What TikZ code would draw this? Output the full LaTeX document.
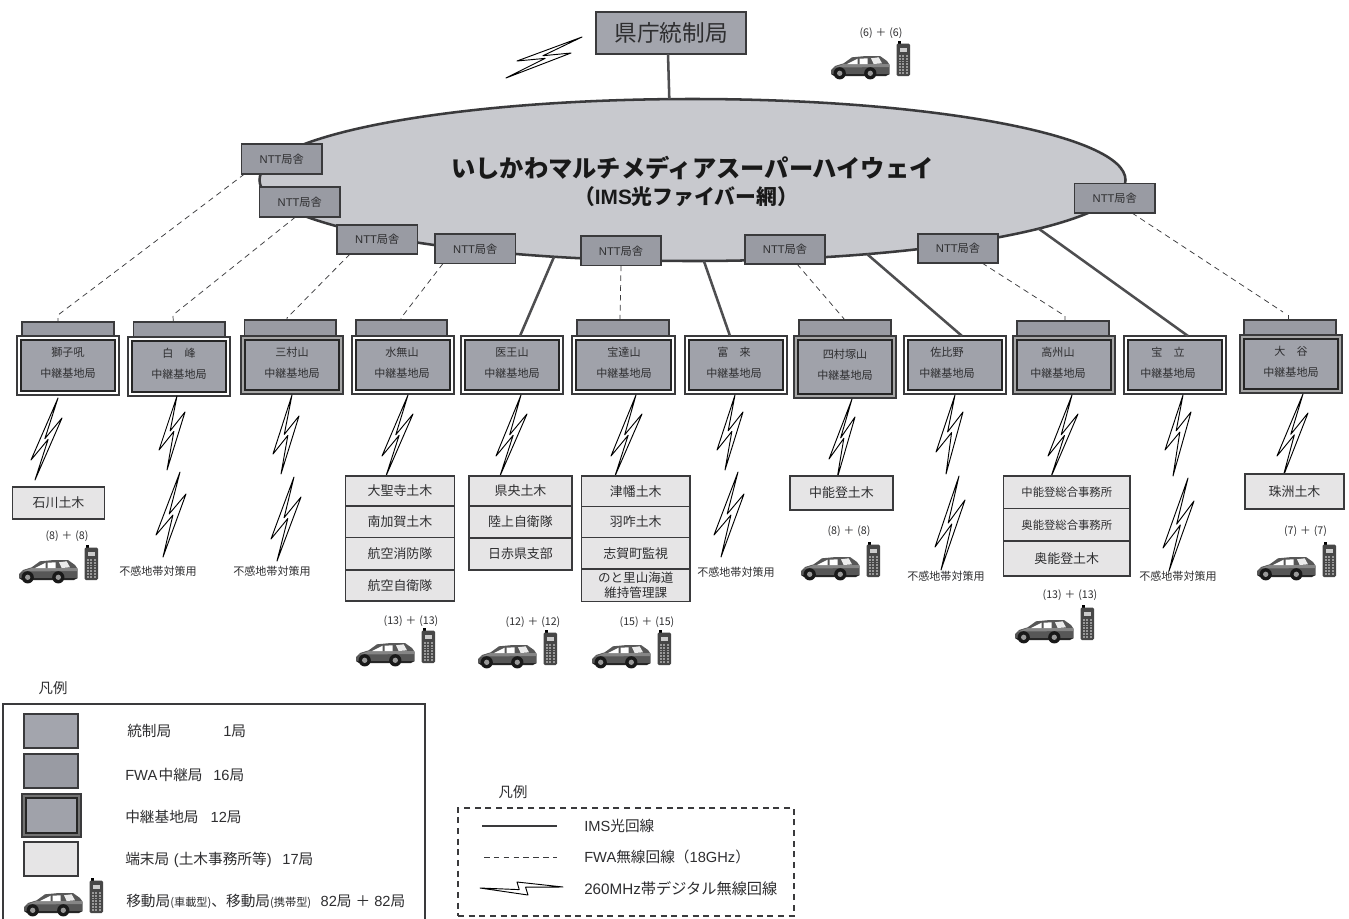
\documentclass[tikz,border=0pt]{standalone}
\usepackage{fontspec}
\setmainfont{Noto Sans CJK JP}
\newfontfamily\lat{Liberation Sans}
\usetikzlibrary{calc,shapes.geometric}
\definecolor{ink}{HTML}{3A3A3C}
\definecolor{txt}{HTML}{2E2E30}
\definecolor{stfill}{HTML}{A0A2AA}
\definecolor{nttfill}{HTML}{999BA3}
\definecolor{ctlfill}{HTML}{A3A5AD}
\definecolor{ovalfill}{HTML}{C8C9CE}
\definecolor{termfill}{HTML}{E6E5E6}
\newcommand{\ntt}{{\lat NTT}局舎\hspace{5pt}}
\newcommand{\cnt}[1]{(#1)\hspace{2.2pt}＋\hspace{2.2pt}(#1)}
\tikzset{
  x=0.75pt,y=-0.75pt,
  boxbase/.style={draw=ink,line width=0.9pt,inner sep=0pt,outer sep=0pt,text=txt},
  nttbox/.style={boxbase,fill=nttfill,font=\fontsize{8.4}{10}\selectfont},
  topbox/.style={boxbase,fill=nttfill},
  ctlbox/.style={boxbase,fill=ctlfill,font=\fontsize{17}{20}\selectfont},
  termbox/.style={boxbase,fill=termfill,font=\fontsize{9.7}{11.2}\selectfont},
  stouter/.style={boxbase,line width=0.9pt,fill=#1},
  stouter/.default=white,
  stinner/.style={draw=black!85,line width=1.6pt,fill=stfill},
  stlabel/.style={inner sep=0pt,text=txt,align=center,font=\fontsize{8.3}{15.75}\selectfont},
  smalltext/.style={inner sep=0pt,text=txt,font=\fontsize{8.3}{10}\selectfont},
  counttext/.style={inner sep=0pt,text=txt,font=\fontsize{8}{10}\selectfont},
  legtitle/.style={inner sep=0pt,text=txt,font=\fontsize{10.8}{13}\selectfont},
  legtext/.style={inner sep=0pt,anchor=west,text=txt,font=\fontsize{11}{13}\selectfont},
  fibre/.style={draw=ink!90,line width=1.9pt},
  fwa/.style={draw=ink,line width=0.55pt,dash pattern=on 4.2pt off 3.2pt},
  boltline/.style={draw=black,line width=0.7pt,fill=white,line join=round},
  pics/carphone/.style={code={
    \fill[black!66] (0,14) -- (4,10) -- (12.7,7.3) -- (21,1.3) -- (35,0) -- (49,0) -- (56,5) -- (58.7,9) -- (58.7,18) -- (0,18) -- cycle;
    \fill[black!48] (12.7,8) -- (58,8) -- (58,11) -- (3,11.5) -- cycle;
    \fill[white] (16,8) -- (26.7,2.7) -- (26.7,8) -- cycle;
    \fill[white] (28.7,8) -- (28.7,2.7) -- (36.7,2.3) -- (36.7,8) -- cycle;
    \fill[black!8] (40,2.3) -- (47.7,1.3) -- (51,7.3) -- (42.7,8) -- cycle;
    \fill[black!85] (0,18) -- (58.7,18) -- (55,20) -- (3,20) -- cycle;
    \fill[black!90] (8.7,17.3) circle[radius=4.6pt];
    \fill[black!90] (39.3,17.3) circle[radius=4.6pt];
    \fill[black!40] (8.7,17.3) circle[radius=2pt];
    \fill[black!40] (39.3,17.3) circle[radius=2pt];
    \fill[black] (66.5,-15) rectangle (69.5,-12);
    \fill[black!72,rounded corners=1pt] (65.5,-12.5) rectangle (79,20);
    \fill[black!20] (68.5,-8) rectangle (76,-4);
    \foreach \i in {0,...,6}{\foreach \j in {0,1,2}{
      \fill[black!40] ({67.5+\j*3.5},{-1+\i*2.8}) rectangle ++(2.4,1.7);}}
  }}
}
% lightning: tip, left corner, right corner, lower tip
\newcommand{\boltshape}[4]{\draw[boltline] (#1) -- (#2) -- ($($(#2)!.6!(#3)$)!.1!(#4)$) -- (#4) -- (#3) -- ($($(#2)!.4!(#3)$)!.1!(#1)$) -- cycle;}
% rectangle node from its corners: style,name,x1,y1,x2,y2,text
\newcommand{\bx}[7]{\node[#1,minimum width={(#5-#3)*0.75pt},minimum height={(#6-#4)*0.75pt}] (#2) at ({(#3+#5)/2},{(#4+#6)/2}) {#7};}
% station: gap colour,name,x1,y1,x2,y2,label x,label y,label
\newcommand{\stn}[9]{\bx{stouter=#1}{#2}{#3}{#4}{#5}{#6}{}
  \draw[stinner] ($(#2.north west)+(4,4)$) rectangle ($(#2.south east)+(-4,-4)$);
  \node[stlabel] at (#7,#8) {#9\\中継基地局};}
\begin{document}
\begin{tikzpicture}
\useasboundingbox (0,0) rectangle (1349,918);
\fill[white] (0,0) rectangle (1349,918);
\clip (0,0) rectangle (1349,918);

% network oval
\node[ellipse,draw=ink,line width=1.9pt,fill=ovalfill,minimum width={866*0.75pt},minimum height={162*0.75pt},inner sep=0pt,outer sep=0pt] (ims) at (692.5,180) {};
\node[inner sep=0pt,text=black!90,font=\fontsize{18.2}{21}\bfseries\selectfont] (imsa) at (692.5,168) {いしかわマルチメディアスーパーハイウェイ};
\node[inner sep=0pt,text=black!90,font=\fontsize{15.6}{17}\bfseries\selectfont] (imsb) at (686,197) {（{\lat IMS}光ファイバー網）};

% control station
\bx{ctlbox}{ken}{596}{12}{746}{54}{県庁統制局}
\draw[fibre] ($(ken.south)+(-3,0)$) -- (ims.106.85);
\boltshape{582,37}{517,61}{571,53}{506,78}

% top boxes of the FWA stations
\bx{topbox}{t1}{22}{322}{114}{338}{}
\bx{topbox}{t2}{133.5}{322}{225}{339}{}
\bx{topbox}{t3}{244.5}{320}{336}{338}{}
\bx{topbox}{t4}{356}{320}{447}{338}{}
\bx{topbox}{t6}{577}{320}{669}{338}{}
\bx{topbox}{t8}{799}{320}{891}{338}{}
\bx{topbox}{t10}{1017}{321}{1109}{338}{}
\bx{topbox}{t12}{1244}{320}{1336}{337}{}

% stations
\stn{white}{s1}{17}{336}{119}{395}{68}{363}{獅子吼}
\stn{white}{s2}{128}{337}{230}{396}{179}{364}{白　峰}
\stn{black!35}{s3}{241}{336}{343}{394}{292}{363}{三村山}
\stn{white}{s4}{352}{336}{454}{394}{402}{363}{水無山}
\stn{white}{s5}{461}{336}{563}{394}{512}{363}{医王山}
\stn{white}{s6}{572}{336}{675}{394}{624}{363}{宝達山}
\stn{white}{s7}{685}{336}{787}{394}{734}{363}{富　来}
\stn{black!35}{s8}{794}{336}{896}{398}{845}{365}{四村塚山}
\stn{white}{s9}{904}{336}{1006}{394}{947}{363}{佐比野}
\stn{black!35}{s10}{1013}{336}{1115}{394}{1058}{363}{高州山}
\stn{white}{s11}{1124}{336}{1226}{394}{1168}{363}{宝　立}
\stn{black!35}{s12}{1240}{335}{1342}{393}{1291}{362}{大　谷}

% fibre links
\draw[fibre] (ims.-151.8) -- ($(s5.north)+(8,0)$);
\draw[fibre] (ims.-82.5) -- ($(s7.north)+(-6,0)$);
\draw[fibre] (ims.-23.2) -- ($(s9.north)+(7,0)$);
\draw[fibre] (ims.-8.1) -- ($(s11.north)+(13,0)$);

% NTT boxes
\bx{nttbox}{n1}{241.5}{144}{322}{174}{\ntt}
\bx{nttbox}{n2}{259.5}{187}{340}{217}{\ntt}
\bx{nttbox}{n3}{337}{225}{417.5}{254}{\ntt}
\bx{nttbox}{n4}{435}{234}{515.5}{263.5}{\ntt}
\bx{nttbox}{n5}{581}{236}{661}{265.5}{\ntt}
\bx{nttbox}{n6}{745}{235}{825}{264}{\ntt}
\bx{nttbox}{n7}{918}{234}{998}{263}{\ntt}
\bx{nttbox}{n8}{1074.5}{183.5}{1155}{213}{\ntt}

% FWA links
\draw[fwa] ($(n1.south west)+(3,0)$) -- (58,315) -- ($(t1.north)+(-10,0)$);
\draw[fwa] ($(n2.south west)+(36,0)$) -- (173,315) -- ($(t2.north)+(-6,0)$);
\draw[fwa] ($(n3.south west)+(13,0)$) -- (287,318) -- ($(t3.north)+(-3,0)$);
\draw[fwa] ($(n4.south west)+(8,0)$) -- (401,318) -- ($(t4.north)+(-0.5,0)$);
\draw[fwa] (n5.south) -- ($(t6.north)+(-3,0)$);
\draw[fwa] ($(n6.south east)+(-28,0)$) -- (t8.north);
\draw[fwa] ($(n7.south west)+(64,0)$) -- (1065,316) -- ($(t10.north)+(2,0)$);
\draw[fwa] ($(n8.south west)+(57.5,0)$) -- (1283,312);
\draw[ink,line width=0.55pt] ($(t12.north)+(-2,-5)$) -- ($(t12.north)+(-2,0)$);

% lightning
\boltshape{58,398}{31,460}{62,418}{35,480}
\boltshape{177,396}{159,450}{185,412}{167,470}
\boltshape{180,472}{156,535}{186,494}{163,557}
\boltshape{292,395}{273,454}{299,416}{281,474}
\boltshape{294,477}{271,539}{301,497}{277,561}
\boltshape{408,395}{382,456}{413,414}{386,476}
\boltshape{521,395}{496,456}{527,414}{500,476}
\boltshape{636,395}{611,456}{642,414}{615,476}
\boltshape{735,395}{717,450}{743,412}{725,470}
\boltshape{738,472}{714,535}{744,494}{721,557}
\boltshape{852,399}{829,459}{855,417}{837,479}
\boltshape{955,395}{936,452}{963,412}{946,474}
\boltshape{959,476}{935,547}{965,500}{941,570}
\boltshape{1072,395}{1048,456}{1078,414}{1051,477}
\boltshape{1183,395}{1165,450}{1191,412}{1173,476}
\boltshape{1188,478}{1163,548}{1194,501}{1169,571}
\boltshape{1303,394}{1277,456}{1308,413}{1283,477}

% terminal stations
\bx{termbox}{a1}{12.5}{487}{104.5}{519}{石川土木\hspace{10pt}}
\bx{termbox}{b1}{345.5}{476}{454.5}{506}{大聖寺土木}
\bx{termbox}{b2}{345.5}{506}{454.5}{537.5}{南加賀土木}
\bx{termbox}{b3}{345.5}{537.5}{454.5}{570}{航空消防隊}
\bx{termbox}{b4}{345.5}{570}{454.5}{601}{航空自衛隊}
\bx{termbox}{c1}{469}{476}{572}{506}{県央土木}
\bx{termbox}{c2}{469}{506}{572}{538}{陸上自衛隊}
\bx{termbox}{c3}{469}{538}{572}{570}{日赤県支部}
\bx{termbox}{d1}{581.5}{476}{690}{506.5}{津幡土木}
\bx{termbox}{d2}{581.5}{506.5}{690}{537.5}{羽咋土木}
\bx{termbox}{d3}{581.5}{537.5}{690}{569}{志賀町監視}
\bx{termbox}{d4}{581.5}{569}{690}{601.5}{\parbox{75pt}{\centering\fontsize{9.4}{11}\selectfont のと里山海道\\維持管理課}}
\bx{termbox}{e1}{790}{476}{893}{510}{中能登土木}
\bx{termbox}{f1}{1003.5}{476}{1130}{508.5}{\fontsize{8.5}{10}\selectfont 中能登総合事務所}
\bx{termbox}{f2}{1003.5}{508.5}{1130}{541}{\fontsize{8.5}{10}\selectfont 奥能登総合事務所}
\bx{termbox}{f3}{1003.5}{541}{1130}{576}{奥能登土木}
\bx{termbox}{g1}{1245}{474}{1344}{509}{珠洲土木}

% no-signal area notes
\node[smalltext] (u1) at (158,571) {不感地帯対策用};
\node[smalltext] (u2) at (272,571) {不感地帯対策用};
\node[smalltext] (u3) at (736,572) {不感地帯対策用};
\node[smalltext] (u4) at (946,576) {不感地帯対策用};
\node[smalltext] (u5) at (1178,576) {不感地帯対策用};

% mobile counts
\node[counttext] (m1) at (67,536) {\cnt{8}};
\pic at (19,560) {carphone};
\node[counttext] (m2) at (881,33) {\cnt{6}};
\pic at (831,56) {carphone};
\node[counttext] (m3) at (411,621) {\cnt{13}};
\pic at (356,643) {carphone};
\node[counttext] (m4) at (533,622) {\cnt{12}};
\pic at (478,645) {carphone};
\node[counttext] (m5) at (647,622) {\cnt{15}};
\pic at (592,645) {carphone};
\node[counttext] (m6) at (849,531) {\cnt{8}};
\pic at (801,557) {carphone};
\node[counttext] (m7) at (1070,595) {\cnt{13}};
\pic at (1015,620) {carphone};
\node[counttext] (m8) at (1305.5,531) {\cnt{7}};
\pic at (1257,557) {carphone};

% station legend
\node[legtitle] (l0) at (53,688) {凡例};
\bx{draw=ink,line width=0.9pt,fill=none,inner sep=0pt}{lf}{3}{704}{425}{930}{}
\bx{boxbase,fill=ctlfill}{k1}{24}{714}{78}{748}{}
\bx{boxbase,fill=nttfill}{k2}{24}{754}{78}{788}{}
\bx{stouter=black!55}{k3}{22}{794}{81}{837}{}
\draw[stinner] ($(k3.north west)+(4,4)$) rectangle ($(k3.south east)+(-4,-4)$);
\bx{boxbase,fill=termfill}{k4}{24}{842}{78}{876}{}
\pic at (24,893) {carphone};
\node[legtext] (t1a) at (127,731) {統制局};
\node[legtext] (t1b) at (223,731) {{\lat 1}局};
\node[legtext] (t2a) at (125,775) {{\lat FWA}\hspace{1pt}中継局\hspace{8pt}{\lat 16}局};
\node[legtext] (t3a) at (125,817) {中継基地局\hspace{9pt}{\lat 12}局};
\node[legtext] (t4a) at (125,860) {端末局\hspace{3.5pt}{\lat (}土木事務所等{\lat )}\hspace{8pt}{\lat 17}局};
\node[legtext] (t5a) at (126,901) {移動局{\fontsize{8.4}{9}\selectfont (車載型)}、移動局{\fontsize{8.4}{9}\selectfont (携帯型)}\hspace{7pt}{\lat 82}局\hspace{3pt}＋\hspace{3pt}{\lat 82}局};

% line legend
\node[legtitle] (l1) at (513,792) {凡例};
\bx{draw=ink,line width=0.8pt,dash pattern=on 4.5pt off 3.5pt,fill=none,inner sep=0pt}{lg}{458}{808}{794}{916}{}
\coordinate (la) at (482,826);
\coordinate (lb) at (557,826);
\draw[draw=ink,line width=1.1pt] (la) -- (lb);
\coordinate (lc) at (484,857);
\coordinate (ld) at (557,857);
\draw[fwa] (lc) -- (ld);
\boltshape{563,887}{517,882}{528,895}{480,888}
\node[legtext] (x1) at (584,826) {{\lat IMS}光回線};
\node[legtext] (x2) at (584,857) {{\lat FWA}無線回線（{\lat 18GHz}）};
\node[legtext,font=\fontsize{11.4}{13}\selectfont] (x3) at (584,889) {{\lat 260MHz}帯デジタル無線回線};
\end{tikzpicture}
\end{document}
